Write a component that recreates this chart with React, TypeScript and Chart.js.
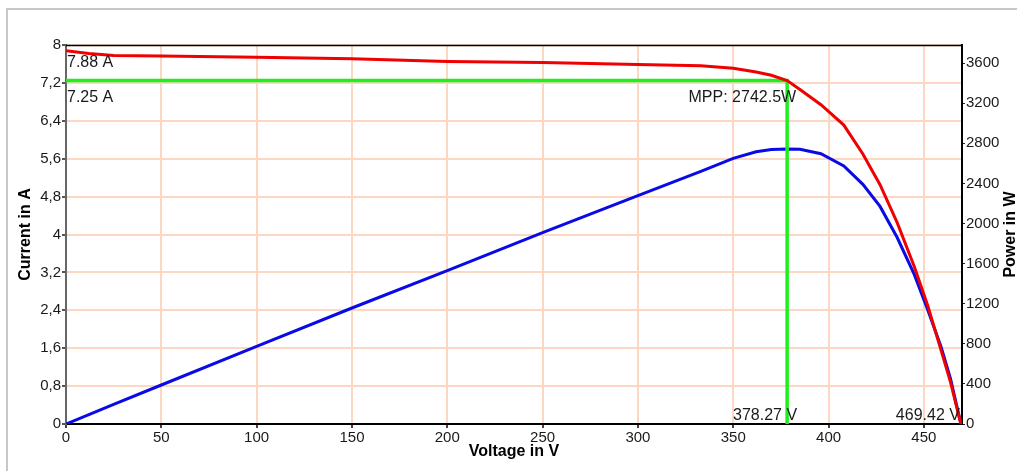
import React, { useEffect, useRef } from 'react';
import { Chart, registerables } from 'chart.js';

Chart.register(...registerables);

// ---- data ----
const voltage = [0, 12, 25, 50, 100, 150, 200, 250, 300, 333, 350, 362, 370, 378.27, 385, 396, 408, 418, 427, 436, 445, 452, 459, 464, 469.42];
const current = [7.88, 7.82, 7.78, 7.77, 7.74, 7.71, 7.65, 7.63, 7.59, 7.56, 7.51, 7.43, 7.36, 7.25, 7.06, 6.74, 6.31, 5.7, 5.05, 4.25, 3.32, 2.5, 1.56, 0.88, 0];
const power = [0, 94, 195, 389, 774, 1157, 1530, 1908, 2277, 2520, 2650, 2715, 2738, 2742.5, 2740, 2695, 2573, 2390, 2170, 1860, 1490, 1140, 771, 450, 0];

const voltageTicks = [0, 50, 100, 150, 200, 250, 300, 350, 400, 450];
const currentTicks = [0, 0.8, 1.6, 2.4, 3.2, 4, 4.8, 5.6, 6.4, 7.2, 8];
const powerTicks = [0, 400, 800, 1200, 1600, 2000, 2400, 2800, 3200, 3600];

const voltageMax = 470;
const currentMax = 8;
const powerMax = 3780;

const mppVoltage = 378.27;
const mppCurrent = 7.25;
const mppPower = 2742.5;
const iscCurrent = 7.88;
const vocVoltage = 469.42;

const xTitle = 'Voltage in V';
const yTitle = 'Current in A';
const y2Title = 'Power in W';

const FONT = "'Liberation Sans', Arial, sans-serif";

export default function App() {
  const ref = useRef<HTMLCanvasElement>(null);

  useEffect(() => {
    const canvas = ref.current;
    if (!canvas) return;

    const decor = {
      id: 'decor',
      beforeDraw(chart: any) {
        const ctx = chart.ctx;
        ctx.save();
        ctx.fillStyle = '#ffffff';
        ctx.fillRect(0, 0, chart.width, chart.height);
        ctx.strokeStyle = '#c8c8c8';
        ctx.lineWidth = 2;
        ctx.beginPath();
        ctx.moveTo(7, chart.height);
        ctx.lineTo(7, 9);
        ctx.lineTo(chart.width, 9);
        ctx.stroke();
        ctx.restore();
      },
      afterDraw(chart: any) {
        const ctx = chart.ctx;
        const x = chart.scales.x;
        const y = chart.scales.y;
        const a = chart.chartArea;
        ctx.save();
        // top border
        ctx.strokeStyle = '#000';
        ctx.lineWidth = 1.5;
        ctx.beginPath();
        ctx.moveTo(a.left, a.top + 0.5);
        ctx.lineTo(a.right, a.top + 0.5);
        ctx.stroke();

        // annotations
        ctx.fillStyle = '#1a1a1a';
        ctx.font = `16px ${FONT}`;
        ctx.textBaseline = 'alphabetic';
        ctx.textAlign = 'left';
        const x0 = x.getPixelForValue(0);
        ctx.fillText(`${iscCurrent.toFixed(2)} A`, x0 + 1, y.getPixelForValue(iscCurrent) + 16);
        ctx.fillText(`${mppCurrent.toFixed(2)} A`, x0 + 1, y.getPixelForValue(mppCurrent) + 21);
        ctx.textAlign = 'right';
        const xm = x.getPixelForValue(mppVoltage);
        ctx.fillText(`MPP: ${mppPower.toFixed(1)}W`, xm + 9, y.getPixelForValue(mppCurrent) + 21);
        const yb = y.getPixelForValue(0);
        ctx.fillText(`${mppVoltage.toFixed(2)} V`, xm + 10, yb - 4);
        ctx.fillText(`${vocVoltage.toFixed(2)} V`, x.getPixelForValue(vocVoltage) - 1, yb - 4);

        // axis titles
        ctx.font = `bold 16px ${FONT}`;
        ctx.fillStyle = '#000';
        ctx.textAlign = 'center';
        ctx.textBaseline = 'middle';
        ctx.fillText(xTitle, (a.left + a.right) / 2, 452);
        const cy = (a.top + a.bottom) / 2;
        ctx.save();
        ctx.translate(26, cy);
        ctx.rotate(-Math.PI / 2);
        ctx.fillText(yTitle, 0, 0);
        ctx.restore();
        ctx.save();
        ctx.translate(1011, cy);
        ctx.rotate(-Math.PI / 2);
        ctx.fillText(y2Title, 0, 0);
        ctx.restore();
        ctx.restore();
      },
    };

    const chart = new Chart(canvas, {
      type: 'scatter',
      data: {
        datasets: [
          {
            label: 'Current',
            data: voltage.map((v, i) => ({ x: v, y: current[i] })),
            yAxisID: 'y',
            borderColor: 'rgb(240,0,0)',
            borderWidth: 3,
            showLine: true,
            pointRadius: 0,
            tension: 0,
            order: 1,
          },
          {
            label: 'MPP',
            data: [
              { x: 0, y: mppCurrent },
              { x: mppVoltage, y: mppCurrent },
              { x: mppVoltage, y: 0 },
            ],
            yAxisID: 'y',
            borderColor: 'rgb(30,240,30)',
            borderWidth: 3.5,
            showLine: true,
            pointRadius: 0,
            tension: 0,
            order: 2,
          },
          {
            label: 'Power',
            data: voltage.map((v, i) => ({ x: v, y: power[i] })),
            yAxisID: 'y2',
            borderColor: 'rgb(10,10,230)',
            borderWidth: 3,
            showLine: true,
            pointRadius: 0,
            tension: 0,
            order: 3,
          },
        ],
      },
      options: {
        responsive: false,
        animation: false,
        layout: { padding: { top: 45, left: 0, right: 0, bottom: 0 } },
        plugins: { legend: { display: false }, tooltip: { enabled: false } },
        scales: {
          x: {
            type: 'linear',
            min: 0,
            max: voltageMax,
            afterBuildTicks: (s: any) => { s.ticks = voltageTicks.map((v) => ({ value: v })); },
            afterFit: (s: any) => { s.height = 47; },
            grid: { color: '#fcd7c2', lineWidth: 2, tickColor: '#444', tickLength: 4 },
            border: { color: '#000', width: 2 },
            ticks: {
              color: '#1a1a1a',
              font: { family: FONT, size: 15 },
              padding: 1,
              maxRotation: 0,
              callback: (v: any) => String(v),
            },
          },
          y: {
            type: 'linear',
            position: 'left',
            min: 0,
            max: currentMax,
            afterBuildTicks: (s: any) => { s.ticks = currentTicks.map((v) => ({ value: v })); },
            afterFit: (s: any) => { s.width = 66; },
            grid: { color: '#fcd7c2', lineWidth: 2, tickColor: '#555', tickLength: 4 },
            border: { color: '#666', width: 2 },
            ticks: {
              color: '#1a1a1a',
              font: { family: FONT, size: 15 },
              padding: 1,
              callback: (v: any) => String(Number(Number(v).toFixed(1))).replace('.', ','),
            },
          },
          y2: {
            type: 'linear',
            position: 'right',
            min: 0,
            max: powerMax,
            afterBuildTicks: (s: any) => { s.ticks = powerTicks.map((v) => ({ value: v })); },
            afterFit: (s: any) => { s.width = 55; },
            grid: { drawOnChartArea: false, tickColor: '#222', tickLength: 3 },
            border: { color: '#000', width: 2 },
            ticks: {
              color: '#1a1a1a',
              font: { family: FONT, size: 15 },
              padding: 1,
              callback: (v: any) => String(v),
            },
          },
        },
      },
      plugins: [decor],
    } as any);

    return () => chart.destroy();
  }, []);

  return (
    <div style={{ position: 'absolute', left: 0, top: 0, width: 1017, height: 471 }}>
      <canvas ref={ref} width={1017} height={471} style={{ display: 'block' }} />
    </div>
  );
}
